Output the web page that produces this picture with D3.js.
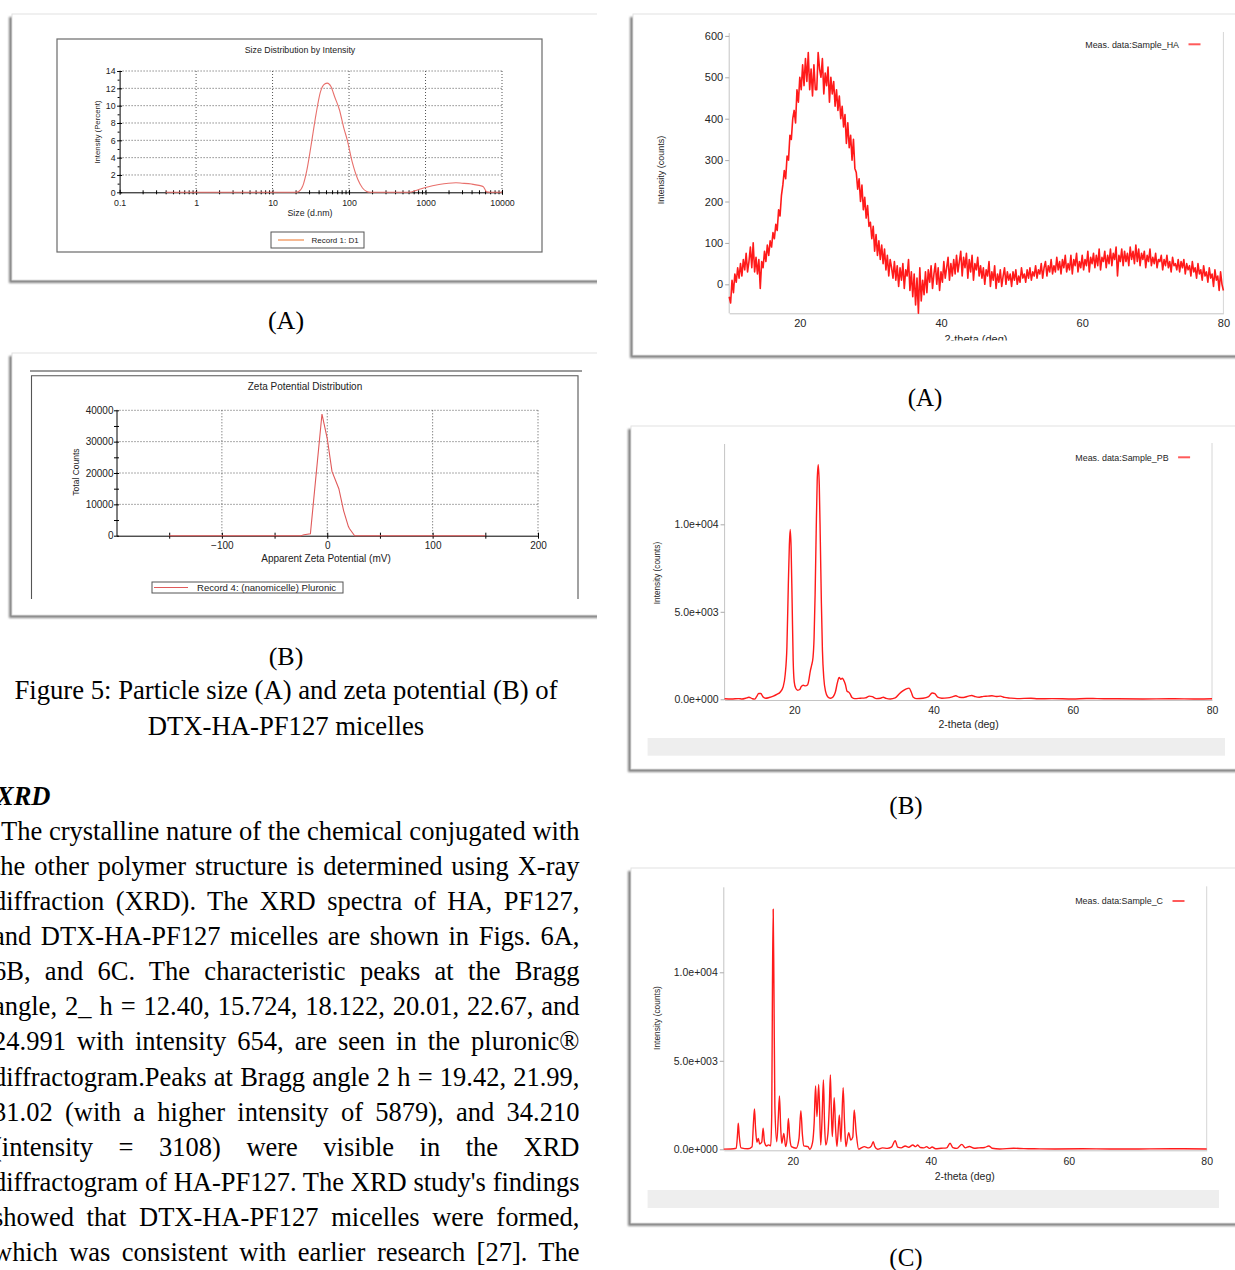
<!DOCTYPE html>
<html><head><meta charset="utf-8">
<script src="https://cdn.jsdelivr.net/npm/d3@7"></script>
<style>body{margin:0;background:#fff;overflow:hidden}svg{display:block}</style>
</head><body>
<svg id="c" width="1235" height="1270"></svg>
<script>
// ---------- DATA ----------
// Fig 5A: size distribution by intensity
const sizeNm = [0.4,1,5,10,20,22,25,28,32,37,42,48,52,58,65,75,85,95,110,130,150,170,190,300,600,800,1000,1500,2000,2500,3000,4000,5000,5700,6300,7000,10000];
const sizeIntensity = [0,0,0,0,0,0.1,0.8,2.5,5.5,9,11.5,12.5,12.6,12.2,11,9.5,7.5,6,3.5,1.5,0.5,0.1,0,0,0,0.3,0.55,0.9,1.05,1.1,1.05,0.95,0.8,0.65,0.05,0,0];
const sizeTicks = [0.1,1,10,100,1000,10000];
const sizeTickLabels = ["0.1","1","10","100","1000","10000"];
const sizeYTicks = [0,2,4,6,8,10,12,14];

// Fig 5B: zeta potential distribution
const zetaMv = [-150,-25,-22,-16,-5,0,4.5,11,15.5,20,21,26,150];
const zetaCounts = [0,0,300,600,38800,31000,20500,15000,8000,3000,2300,0,0];
const zetaXTicks = [-100,0,100,200];
const zetaYTicks = [0,10000,20000,30000,40000];

// Fig 6A: XRD Sample_HA, 10-80 deg, 0.2 deg steps
const haStart = 10, haEnd = 80;
const haCounts = [
-30,-45,10,-20,25,5,40,15,50,20,
60,35,75,30,55,90,40,100,30,65,
25,60,-10,55,40,80,55,95,70,105,
90,125,110,145,130,180,165,215,240,275,
255,310,300,360,350,400,420,390,470,440,
500,470,530,480,545,490,560,470,520,455,
530,470,470,560,520,500,545,460,510,480,
525,440,500,460,490,430,470,420,455,400,
430,380,410,340,390,330,360,300,350,280,
270,230,255,200,240,180,210,160,190,140,
150,110,140,80,120,70,105,60,95,50,
85,35,70,20,60,40,15,55,10,45,
-5,40,10,50,-10,35,20,60,-15,30,
-30,25,-50,15,-70,40,-40,10,-25,30,
-20,35,5,45,-10,25,50,0,40,-15,
30,5,55,15,40,65,10,50,20,60,
25,70,30,55,80,20,65,40,75,15,
60,30,70,10,50,35,65,20,45,15,
40,0,35,20,55,-5,30,10,45,-10,
25,5,35,-5,20,40,0,30,10,25,
-5,30,10,35,0,20,5,40,15,25,
5,35,15,40,10,30,20,45,15,35,
25,50,15,40,55,20,45,30,60,25,
45,30,65,35,55,25,60,40,70,30,
50,35,70,25,60,45,75,30,55,40,
70,35,60,45,80,30,65,50,75,40,
70,45,85,35,65,55,80,40,70,50,
85,45,75,60,90,20,70,55,85,45,
80,55,75,45,90,60,80,50,95,55,
85,45,75,60,80,40,70,55,85,45,
65,50,75,40,60,55,70,35,60,45,
70,40,55,30,65,45,50,35,60,30,
55,40,60,25,50,35,45,20,55,30,
40,15,50,25,35,10,45,20,30,5,
40,15,25,-5,35,10,20,-15,30,0,-15];
const haYTicks = [0,100,200,300,400,500,600];

// Fig 6B: XRD Sample_PB
const pbTheta = [10,11,12,12.5,13,13.5,14,14.3,14.6,14.9,15.2,15.5,15.9,16.4,17,17.5,18,18.4,18.7,18.95,19.15,19.3,19.42,19.55,19.7,19.85,20,20.2,20.5,20.8,21,21.3,21.6,21.9,22.1,22.3,22.5,22.7,22.85,23,23.15,23.3,23.45,23.6,23.75,23.9,24.05,24.25,24.5,24.8,25.2,25.6,25.9,26.2,26.45,26.7,26.9,27.1,27.35,27.6,27.8,28,28.3,28.7,29.5,30.2,30.8,31.2,31.8,32.4,32.8,33.2,33.8,34.5,35.1,35.6,36.1,36.5,36.8,37.1,37.6,38.5,39.3,39.8,40.2,40.6,41.2,42,42.7,43.2,43.7,44.3,45,45.5,46,46.6,47.2,47.8,48.4,49,49.6,50.2,51,52,54,55,57,60,62,63.5,66,70,74,78,80];
const pbCounts = [30,20,40,20,60,120,30,10,150,330,330,150,60,100,180,280,420,700,1400,3000,6500,8800,9700,8700,5500,2200,1000,650,520,560,720,800,770,820,1100,1600,1950,2400,3500,6000,9500,12500,13400,12200,9000,5500,2800,1200,450,150,60,150,400,950,1250,1150,1200,1100,850,450,420,330,100,40,60,80,180,150,40,60,120,50,20,80,320,480,600,640,420,120,40,60,150,360,320,120,60,80,140,200,120,100,180,220,150,120,170,180,200,160,180,110,70,40,60,30,40,20,50,40,30,20,30,20,30];

// Fig 6C: XRD Sample_C
const cTheta = [10,11,11.8,12,12.1,12.25,12.5,13.5,14.1,14.3,14.45,14.6,14.8,15,15.2,15.5,15.7,15.9,16.2,16.5,16.8,16.95,17.05,17.16,17.27,17.4,17.67,17.9,18.07,18.25,18.4,18.7,18.96,19.2,19.36,19.55,19.8,20.5,20.9,21.17,21.4,21.6,22.2,22.46,22.86,23.1,23.3,23.5,23.76,24.05,24.25,24.44,24.6,24.77,25.1,25.3,25.45,25.6,25.73,26,26.2,26.4,26.75,26.98,27.3,27.5,27.7,28.1,28.4,28.7,28.9,29.2,29.55,30,30.36,31,31.4,31.66,31.9,32.3,33,33.7,34.3,34.85,35.2,35.7,36.3,36.8,37.4,37.8,38.1,38.5,39,39.4,39.8,40.2,40.7,41.5,42.3,42.8,43.2,43.8,44.5,45,45.6,46.3,47,47.8,48.4,48.9,50,52,53.5,55,58,62,66,70,75,80];
const cCounts = [10,20,60,900,1470,700,80,30,150,1500,2280,1200,400,620,300,400,1190,400,190,250,200,2000,9000,13560,9000,2500,430,1800,3010,1200,340,900,150,700,1750,700,150,60,600,2180,800,190,150,0,380,1500,3580,1850,3670,240,1800,3920,1500,240,900,2500,4200,2000,720,2920,1200,150,1940,430,3480,1500,150,940,530,700,2220,900,0,100,150,80,200,430,150,0,80,50,120,490,120,80,190,120,240,150,240,100,80,150,50,130,30,60,80,340,100,50,280,80,160,60,80,100,190,60,20,60,40,30,20,30,20,20,30,20];
const xrdXTicks = [20,40,60,80];
const xrdYTicks = [0,5000,10000];

const paragraphLines = [
"The crystalline nature of the chemical conjugated with",
"the other polymer structure is determined using X-ray",
"diffraction (XRD). The XRD spectra of HA, PF127,",
"and DTX-HA-PF127 micelles are shown in Figs. 6A,",
"6B, and 6C. The characteristic peaks at the Bragg",
"angle, 2_ h = 12.40, 15.724, 18.122, 20.01, 22.67, and",
"24.991 with intensity 654, are seen in the pluronic®",
"diffractogram.Peaks at Bragg angle 2 h = 19.42, 21.99,",
"31.02 (with a higher intensity of 5879), and 34.210",
"(intensity = 3108) were visible in the XRD",
"diffractogram of HA-PF127. The XRD study's findings",
"showed that DTX-HA-PF127 micelles were formed,",
"which was consistent with earlier research [27]. The"];

// ---------- DRAWING ----------
const SANS = '"Liberation Sans", Arial, Helvetica, sans-serif';
const SERIF = '"Liberation Serif", "Times New Roman", serif';
const svg = d3.select('#c');
const defs = svg.append('defs');
defs.append('filter').attr('id','sh').attr('x','-5%').attr('y','-5%').attr('width','110%').attr('height','110%')
  .append('feGaussianBlur').attr('stdDeviation',1.3);
defs.append('clipPath').attr('id','leftcol').append('rect').attr('x',0).attr('y',0).attr('width',597).attr('height',1270);
defs.append('clipPath').attr('id','haclip').append('rect').attr('x',600).attr('y',0).attr('width',700).attr('height',340.5);

function frame(g, x, y, w, h) {
  g.append('rect').attr('x', x-3).attr('y', y+3).attr('width', w).attr('height', h)
    .attr('fill', '#858585').attr('filter', 'url(#sh)');
  g.append('rect').attr('x', x).attr('y', y).attr('width', w).attr('height', h)
    .attr('fill', '#fff').attr('stroke', '#e2e2e2').attr('stroke-width', 1);
}
function styleAxis(g, color, fs, fam) {
  g.selectAll('text').attr('font-family', fam || SANS).attr('font-size', fs).attr('fill', color);
  return g;
}

const left = svg.append('g').attr('clip-path','url(#leftcol)');

// ===== Panel 5A =====
(function(){
  const g = left.append('g');
  frame(g, 12, 14, 700, 266);
  g.append('rect').attr('x',57).attr('y',39).attr('width',485).attr('height',213)
    .attr('fill','none').attr('stroke','#6a6a6a').attr('stroke-width',1.2);
  const x = d3.scaleLog().domain([0.1,10000]).range([119.6,502]);
  const y = d3.scaleLinear().domain([0,14]).range([192.3,71]);
  g.append('g').selectAll('line').data(sizeTicks.slice(1)).join('line')
    .attr('x1',d=>x(d)).attr('x2',d=>x(d)).attr('y1',y(14)).attr('y2',y(0))
    .attr('stroke','#555').attr('stroke-dasharray','1,2');
  g.append('g').selectAll('line').data(sizeYTicks.slice(1)).join('line')
    .attr('x1',x(0.1)).attr('x2',x(10000)).attr('y1',d=>y(d)).attr('y2',d=>y(d))
    .attr('stroke','#555').attr('stroke-dasharray','1,2');
  const ya = g.append('g').attr('transform',`translate(${x(0.1)},0)`)
    .call(d3.axisLeft(y).tickValues(sizeYTicks).tickSize(2.5).tickSizeOuter(0).tickPadding(1.5));
  ya.selectAll('.tick line').attr('x1',2.5);
  styleAxis(ya,'#222',8.8);
  const yam = g.append('g').attr('transform',`translate(${x(0.1)},0)`)
    .call(d3.axisLeft(y).tickValues(d3.range(1,14,2)).tickSize(2).tickFormat(''));
  yam.select('.domain').remove();
  const xa = g.append('g').attr('transform',`translate(0,${y(0)})`)
    .call(d3.axisBottom(x).tickValues(sizeTicks).tickFormat((d,i)=>sizeTickLabels[i]).tickSize(2.5).tickSizeOuter(0).tickPadding(5));
  xa.selectAll('.tick line').attr('y1',-2.5);
  styleAxis(xa,'#222',8.8);
  const xam = g.append('g').attr('transform',`translate(0,${y(0)})`)
    .call(d3.axisBottom(x).tickValues(x.ticks().filter(v=>!sizeTicks.some(t=>Math.abs(t-v)<1e-9))).tickSize(2).tickFormat(''));
  xam.select('.domain').remove();
  xam.selectAll('.tick line').attr('y1',-2);
  const pts = sizeNm.map((d,i)=>[d,sizeIntensity[i]]);
  g.append('path').datum(pts).attr('fill','none').attr('stroke','#e8706c').attr('stroke-width',1.1)
    .attr('d', d3.line().x(d=>x(d[0])).y(d=>y(d[1])).curve(d3.curveMonotoneX));
  g.append('text').attr('x',300).attr('y',53).attr('text-anchor','middle').attr('font-family',SANS).attr('font-size',8.8).attr('fill','#222').text('Size Distribution by Intensity');
  g.append('text').attr('x',310).attr('y',216).attr('text-anchor','middle').attr('font-family',SANS).attr('font-size',8.8).attr('fill','#222').text('Size (d.nm)');
  g.append('text').attr('transform','translate(99.5,132) rotate(-90)').attr('text-anchor','middle').attr('font-family',SANS).attr('font-size',7.8).attr('fill','#222').text('Intensity (Percent)');
  g.append('rect').attr('x',271).attr('y',232).attr('width',93).attr('height',16).attr('fill','#fff').attr('stroke','#555');
  g.append('line').attr('x1',278).attr('x2',304).attr('y1',240).attr('y2',240).attr('stroke','#f08a4b').attr('stroke-width',1.2);
  g.append('text').attr('x',311.5).attr('y',243).attr('font-family',SANS).attr('font-size',8).attr('fill','#222').text('Record 1: D1');
})();

// ===== Panel 5B =====
(function(){
  const g = left.append('g');
  frame(g, 12, 353, 700, 262);
  g.append('line').attr('x1',30).attr('x2',582).attr('y1',371).attr('y2',371).attr('stroke','#7a7a7a').attr('stroke-width',1.5);
  g.append('path').attr('d','M31.5,599 V375.7 H578 V599').attr('fill','none').attr('stroke','#555').attr('stroke-width',1.1);
  const x = d3.scaleLinear().domain([-200,200]).range([116.5,538]);
  const y = d3.scaleLinear().domain([0,40000]).range([535.7,410.3]);
  g.append('g').selectAll('line').data(zetaXTicks).join('line')
    .attr('x1',d=>x(d)).attr('x2',d=>x(d)).attr('y1',y(40000)).attr('y2',y(0))
    .attr('stroke','#555').attr('stroke-dasharray','1,2');
  g.append('g').selectAll('line').data(zetaYTicks.slice(1)).join('line')
    .attr('x1',x(-200)).attr('x2',x(200)).attr('y1',d=>y(d)).attr('y2',d=>y(d))
    .attr('stroke','#555').attr('stroke-dasharray','1,2');
  const ya = g.append('g').attr('transform',`translate(${x(-200)},0)`)
    .call(d3.axisLeft(y).tickValues(zetaYTicks).tickSize(2.5).tickSizeOuter(0).tickPadding(0.5).tickFormat(d3.format('d')));
  ya.selectAll('.tick line').attr('x1',2.5);
  styleAxis(ya,'#222',10);
  const yam = g.append('g').attr('transform',`translate(${x(-200)},0)`)
    .call(d3.axisLeft(y).tickValues(d3.range(5000,40000,10000)).tickSize(2.5).tickFormat(''));
  yam.select('.domain').remove();
  yam.selectAll('.tick line').attr('x1',2.5);
  const xa = g.append('g').attr('transform',`translate(0,${y(0)})`)
    .call(d3.axisBottom(x).tickValues(zetaXTicks).tickSize(3).tickSizeOuter(0).tickPadding(3.5).tickFormat(d3.format('d')));
  xa.selectAll('.tick line').attr('y1',-3);
  styleAxis(xa,'#222',10);
  const xam = g.append('g').attr('transform',`translate(0,${y(0)})`)
    .call(d3.axisBottom(x).tickValues([-150,-50,50,150]).tickSize(3).tickFormat(''));
  xam.select('.domain').remove();
  xam.selectAll('.tick line').attr('y1',-3);
  const pts = zetaMv.map((d,i)=>[d,zetaCounts[i]]);
  g.append('path').datum(pts).attr('fill','none').attr('stroke','#e05a5a').attr('stroke-width',1.1)
    .attr('d', d3.line().x(d=>x(d[0])).y(d=>y(d[1])));
  g.append('text').attr('x',305).attr('y',390).attr('text-anchor','middle').attr('font-family',SANS).attr('font-size',10).attr('fill','#222').text('Zeta Potential Distribution');
  g.append('text').attr('x',326).attr('y',561.5).attr('text-anchor','middle').attr('font-family',SANS).attr('font-size',10).attr('fill','#222').text('Apparent Zeta Potential (mV)');
  g.append('text').attr('transform','translate(79,472) rotate(-90)').attr('text-anchor','middle').attr('font-family',SANS).attr('font-size',8.5).attr('fill','#222').text('Total Counts');
  g.append('rect').attr('x',152).attr('y',582).attr('width',191).attr('height',11).attr('fill','#fff').attr('stroke','#555');
  g.append('line').attr('x1',154).attr('x2',188).attr('y1',587.5).attr('y2',587.5).attr('stroke','#e05a5a').attr('stroke-width',1.2);
  g.append('text').attr('x',197).attr('y',591).attr('font-family',SANS).attr('font-size',9.6).attr('fill','#222').text('Record 4: (nanomicelle) Pluronic');
})();

// ===== XRD panels =====
function sci(v){
  const s = v.toExponential(1).split('e');
  const e = +s[1];
  return s[0] + 'e' + (e<0?'-':'+') + String(Math.abs(e)).padStart(3,'0');
}
function xrd(opt){
  const g = svg.append('g');
  frame(g, opt.fx, opt.fy, 700, opt.fh);
  if (opt.bar) g.append('rect').attr('x',opt.bar[0]).attr('y',opt.bar[1]).attr('width',opt.bar[2]).attr('height',opt.bar[3]).attr('fill','#eeeeee');
  const x = d3.scaleLinear().domain([10,80]).range(opt.xr);
  const y = d3.scaleLinear().domain(opt.yd).range(opt.yr);
  g.append('line').attr('x1',x(80)).attr('x2',x(80)).attr('y1',opt.yr[1]-1).attr('y2',opt.yr[0]).attr('stroke','#d6d6d6');
  const ya = g.append('g').attr('transform',`translate(${x(10)},0)`)
    .call(d3.axisLeft(y).tickValues(opt.yt).tickSize(4).tickSizeOuter(0).tickPadding(2).tickFormat(opt.fmt));
  ya.select('.domain').attr('stroke','#c4c4c4').attr('d',`M0,${opt.yr[0]}V${opt.yr[1]}`);
  ya.selectAll('.tick line').attr('stroke','#aaa');
  styleAxis(ya,'#262626',opt.yfs);
  const xa = g.append('g').attr('transform',`translate(0,${opt.yr[0]})`)
    .call(d3.axisBottom(x).tickValues(xrdXTicks).tickSize(0).tickSizeOuter(0).tickPadding(opt.xpad).tickFormat(d3.format('d')));
  xa.select('.domain').attr('stroke','#c4c4c4');
  styleAxis(xa,'#262626',opt.xfs);
  g.append('path').datum(opt.pts).attr('fill','none').attr('stroke','#ff1a1a').attr('stroke-width',opt.sw)
    .attr('stroke-linejoin','round')
    .attr('d', d3.line().x(d=>x(d[0])).y(d=>y(d[1])).curve(opt.curve));
  const tt = g.append('text').attr('x',opt.xt[0]).attr('y',opt.xt[1]).attr('text-anchor','middle')
    .attr('font-family',SANS).attr('font-size',opt.xfs).attr('fill','#262626').text('2-theta (deg)');
  if (opt.clipTitle) tt.attr('clip-path','url(#haclip)');
  g.append('text').attr('transform',`translate(${opt.yt2[0]},${opt.yt2[1]}) rotate(-90)`).attr('text-anchor','middle')
    .attr('font-family',SANS).attr('font-size',opt.ytfs).attr('fill','#262626').text('Intensity (counts)');
  g.append('text').attr('x',opt.lg[0]).attr('y',opt.lg[1]+3.2).attr('text-anchor','end')
    .attr('font-family',SANS).attr('font-size',8.9).attr('fill','#262626').text(opt.name);
  g.append('line').attr('x1',opt.lg[0]+9.5).attr('x2',opt.lg[0]+21.5).attr('y1',opt.lg[1]).attr('y2',opt.lg[1])
    .attr('stroke','#ff5a5a').attr('stroke-width',2);
}

const haPts = haCounts.map((v,i)=>[haStart + i*(haEnd-haStart)/(haCounts.length-1), v]);
xrd({fx:633, fy:14, fh:341, xr:[729.2,1223.4], yd:[-70,607], yr:[313.3,33], yt:haYTicks, fmt:d3.format('d'),
  yfs:11, xfs:11, xpad:6, pts:haPts, curve:d3.curveLinear, sw:1.6, xt:[976,342.5], clipTitle:true,
  yt2:[664,170], ytfs:9, lg:[1179,44.3], name:'Meas. data:Sample_HA'});

const pbPts = pbTheta.map((d,i)=>[d,pbCounts[i]]);
xrd({fx:631, fy:426, fh:343, bar:[647.6,738,577.4,17.7], xr:[724.6,1212], yd:[-40,14590], yr:[700,444], yt:xrdYTicks, fmt:sci,
  yfs:10.5, xfs:10.5, xpad:6.3, pts:pbPts, curve:d3.curveMonotoneX, sw:1.4, xt:[968.6,728],
  yt2:[660,573], ytfs:8.2, lg:[1168.6,457.3], name:'Meas. data:Sample_PB'});

const cPts = cTheta.map((d,i)=>[d,cCounts[i]]);
xrd({fx:631, fy:868, fh:355, bar:[647.6,1190,571.4,18], xr:[723.8,1206.7], yd:[-56,14802], yr:[1150.3,887.3], yt:xrdYTicks, fmt:sci,
  yfs:10.5, xfs:10.5, xpad:7.3, pts:cPts, curve:d3.curveMonotoneX, sw:1.4, xt:[964.7,1180],
  yt2:[660,1018], ytfs:8.4, lg:[1163,901], name:'Meas. data:Sample_C'});

// ===== Captions and text =====
const tg = svg.append('g').attr('font-family',SERIF).attr('fill','#000');
function cap(x,y,t,fs){ tg.append('text').attr('x',x).attr('y',y).attr('text-anchor','middle').attr('font-size',fs||26).text(t); }
cap(286,329,'(A)');
cap(286,665,'(B)');
cap(286,699,'Figure 5: Particle size (A) and zeta potential (B) of',26.7);
cap(286,735,'DTX-HA-PF127 micelles',26.7);
cap(925,406,'(A)',25);
cap(906,814,'(B)',25);
cap(906,1266,'(C)',25);
tg.append('text').attr('x',-4).attr('y',805).attr('font-size',26.5).attr('font-weight','bold').attr('font-style','italic').text('XRD');
paragraphLines.forEach((t,i)=>{
  const x0 = i===0 ? 1 : -7, x1 = 579.5;
  const el = tg.append('text').attr('x',x0).attr('y',839.5 + i*35.15).attr('font-size',26.5).text(t);
  const w = el.node().getComputedTextLength();
  const n = (t.match(/ /g)||[]).length;
  if (n>0) el.style('word-spacing', ((x1-x0-w)/n) + 'px');
});
</script>
</body></html>
